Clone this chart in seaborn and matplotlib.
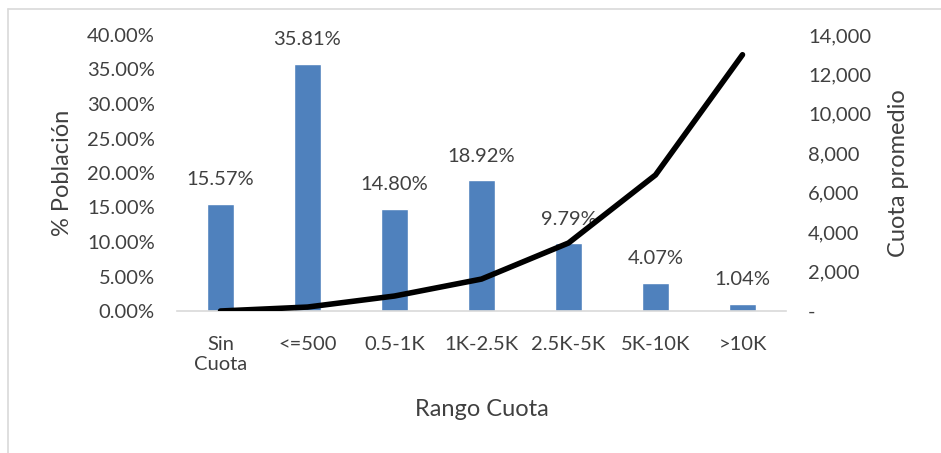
import numpy as np
import pandas as pd
import matplotlib
matplotlib.use("Agg")
import matplotlib.pyplot as plt
from matplotlib.ticker import FuncFormatter, FixedLocator
import seaborn as sns

# Ranges of the monthly fee and their share of the population
rangos = ["Sin\nCuota", "<=500", "0.5-1K", "1K-2.5K", "2.5K-5K", "5K-10K", ">10K"]
poblacion_pct = [15.57, 35.81, 14.80, 18.92, 9.79, 4.07, 1.04]
# Average fee in each range
cuota_promedio = [0, 200, 760, 1620, 3450, 6900, 13000]

left_ticks = [0, 5, 10, 15, 20, 25, 30, 35, 40]
right_ticks = [0, 2000, 4000, 6000, 8000, 10000, 12000, 14000]

sns.set_theme(style="white")
plt.rcParams["font.family"] = ["Lato", "DejaVu Sans"]

TXT = "#404040"
BAR = "#4f81bd"
FS_TICK = 14.5
FS_TITLE = 17

df = pd.DataFrame({"rango": rangos, "pct": poblacion_pct, "cuota": cuota_promedio})

fig = plt.figure(figsize=(9.41, 4.53), dpi=100)
W, H = 941, 453
ax = fig.add_axes([177 / W, 1 - 311 / H, (786 - 177) / W, (311 - 35) / H])

sns.barplot(data=df, x="rango", y="pct", color=BAR, width=0.31,
            saturation=1, ax=ax, zorder=2)
ax.set_ylim(0, 40)
ax.set_xlim(-0.5, len(rangos) - 0.5)

# Value labels above the bars
for i, v in enumerate(poblacion_pct):
    ax.annotate(f"{v:.2f}%", (i, v), xytext=(0, 24), textcoords="offset pixels",
                ha="center", va="center", fontsize=FS_TICK, color=TXT, zorder=3)

ax.yaxis.set_major_locator(FixedLocator(left_ticks))
ax.yaxis.set_major_formatter(FuncFormatter(lambda v, p: f"{v:.2f}%"))
ax.tick_params(axis="y", length=0, pad=16, labelsize=FS_TICK, labelcolor=TXT)
ax.tick_params(axis="x", length=0, pad=18, labelsize=FS_TICK, labelcolor=TXT)
ax.set_ylabel("% Población", fontsize=FS_TITLE, color=TXT, labelpad=10)
ax.set_xlabel("Rango Cuota", fontsize=FS_TITLE, color=TXT, labelpad=19)
for s in ["top", "right", "left"]:
    ax.spines[s].set_visible(False)
ax.spines["bottom"].set_color("#d9d9d9")
ax.spines["bottom"].set_linewidth(1.2)

# Average fee on the secondary axis
ax2 = ax.twinx()
sns.lineplot(x=np.arange(len(rangos)), y=df["cuota"], color="black",
             linewidth=4, ax=ax2, zorder=5)
ax2.set_ylim(0, 14000)
ax2.yaxis.set_major_locator(FixedLocator(right_ticks))
ax2.yaxis.set_major_formatter(FuncFormatter(lambda v, p: "-" if v == 0 else f"{v:,.0f}"))
ax2.tick_params(axis="y", length=0, pad=16, labelsize=FS_TICK, labelcolor=TXT)
ax2.set_ylabel("Cuota promedio", fontsize=FS_TITLE, color=TXT, labelpad=12)
for s in ax2.spines.values():
    s.set_visible(False)
ax2.set_xlim(-0.5, len(rangos) - 0.5)

# Chart frame
fig.add_artist(plt.Line2D([8 / W, 8 / W], [0, 1 - 9 / H], color="#d9d9d9",
                          linewidth=1.2, transform=fig.transFigure))
fig.add_artist(plt.Line2D([8 / W, 1], [1 - 9 / H, 1 - 9 / H], color="#d9d9d9",
                          linewidth=1.2, transform=fig.transFigure))

fig.savefig("out.png", dpi=100)
